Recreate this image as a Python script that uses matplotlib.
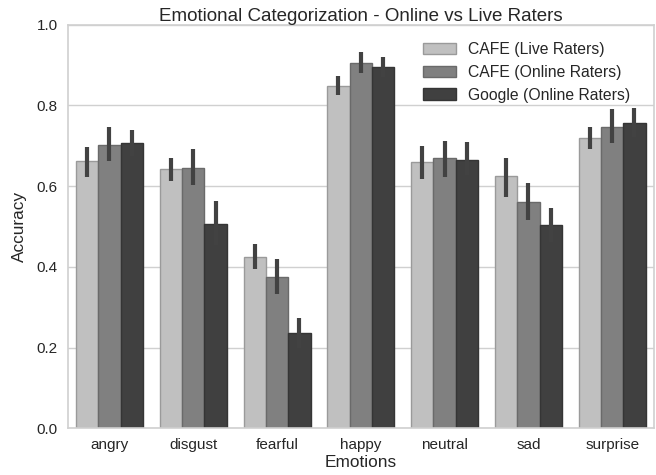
import numpy as np
import matplotlib
matplotlib.use("Agg")
import matplotlib.pyplot as plt

emotions = ["angry", "disgust", "fearful", "happy", "neutral", "sad", "surprise"]
groups = ["CAFE (Live Raters)", "CAFE (Online Raters)", "Google (Online Raters)"]

# mean accuracy per emotion, one list per rater group
live_mean = [0.663, 0.642, 0.425, 0.848, 0.659, 0.626, 0.720]
online_mean = [0.703, 0.646, 0.375, 0.906, 0.670, 0.562, 0.747]
google_mean = [0.706, 0.506, 0.236, 0.895, 0.665, 0.503, 0.757]

# bootstrap confidence intervals (low, high)
live_lo = [0.624, 0.613, 0.394, 0.827, 0.619, 0.574, 0.692]
live_hi = [0.697, 0.671, 0.458, 0.874, 0.700, 0.671, 0.747]
online_lo = [0.663, 0.602, 0.333, 0.880, 0.624, 0.516, 0.707]
online_hi = [0.747, 0.692, 0.420, 0.932, 0.713, 0.607, 0.791]
google_lo = [0.675, 0.455, 0.200, 0.870, 0.627, 0.462, 0.721]
google_hi = [0.740, 0.563, 0.274, 0.921, 0.710, 0.545, 0.794]

means = [live_mean, online_mean, google_mean]
lows = [live_lo, online_lo, google_lo]
highs = [live_hi, online_hi, google_hi]
fills = ["#c0c0c0", "#808080", "#404040"]
edges = ["#9a9a9a", "#6a6a6a", "#353535"]

plt.rcParams["font.family"] = ["Liberation Sans", "DejaVu Sans"]
text_color = "#262626"

fig = plt.figure(figsize=(6.56, 4.75), dpi=100)
ax = fig.add_axes([0.103, 0.098, 0.894, 0.85])

x = np.arange(len(emotions))
width = 0.8 / len(groups)
for i, label in enumerate(groups):
    pos = x - 0.4 + width * (i + 0.5)
    ax.bar(pos, means[i], width, color=fills[i], edgecolor=edges[i],
           linewidth=1, label=label, zorder=2)
    ax.vlines(pos, lows[i], highs[i], color="#424242", linewidth=3.0, zorder=3)

ax.set_xlim(-0.5, len(emotions) - 0.5)
ax.set_ylim(0, 1.0)
ax.set_xticks(x)
ax.set_xticklabels(emotions)
ax.set_yticks(np.arange(0, 1.01, 0.2))
ax.set_yticklabels([f"{v:.1f}" for v in np.arange(0, 1.01, 0.2)])
ax.tick_params(axis="both", length=0, labelsize=11, colors=text_color, pad=7)

ax.yaxis.grid(True, color="#d0d0d0", linewidth=1, zorder=0)
ax.xaxis.grid(False)
ax.set_axisbelow(True)
for s in ax.spines.values():
    s.set_color("#d0d0d0")
    s.set_linewidth(1.2)

ax.set_xlabel("Emotions", fontsize=12.4, color=text_color, labelpad=2)
ax.set_ylabel("Accuracy", fontsize=12.4, color=text_color, labelpad=7)
ax.set_title("Emotional Categorization - Online vs Live Raters",
             fontsize=13.5, color=text_color, pad=3)

leg = ax.legend(loc="upper right", bbox_to_anchor=(0.983, 0.992),
                frameon=False, fontsize=11.3,
                handlelength=2.1, handleheight=0.77, handletextpad=0.75,
                labelspacing=0.5, borderaxespad=0.5)
for t in leg.get_texts():
    t.set_color(text_color)

fig.savefig("out.png", dpi=100)
